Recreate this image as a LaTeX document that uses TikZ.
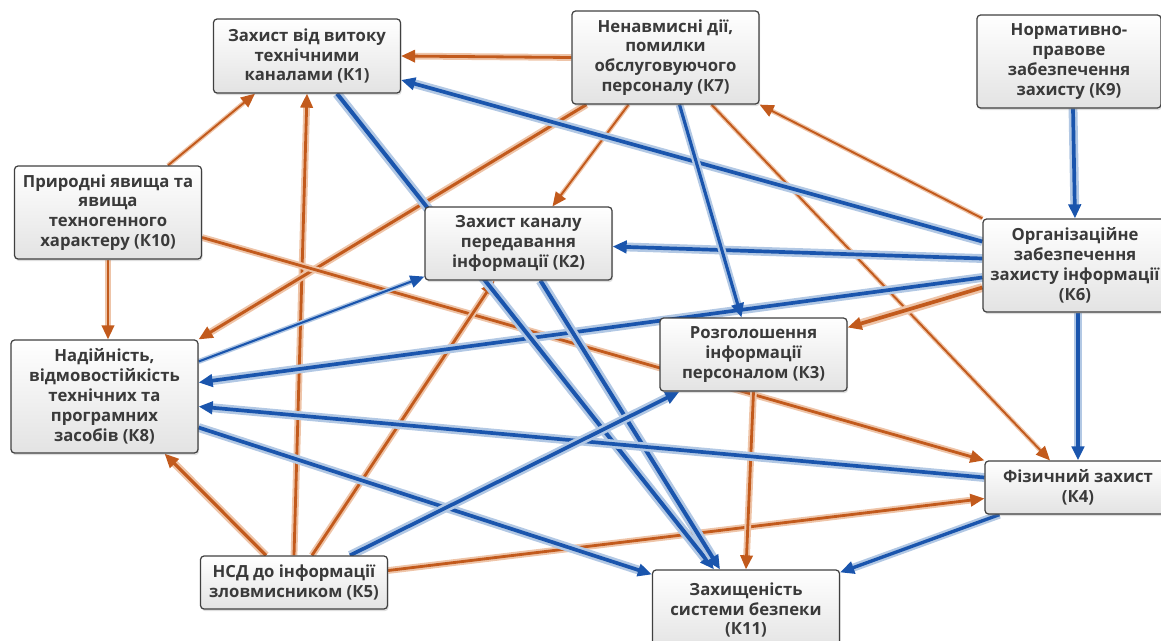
\documentclass[tikz,border=0pt]{standalone}
\usepackage{fontspec}
\setmainfont{Open Sans}
\usetikzlibrary{arrows.meta, shadows, backgrounds, calc}

\definecolor{orangeLine}{HTML}{C25A1C}
\definecolor{orangeHalo}{HTML}{EEC4A8}
\definecolor{blueLine}{HTML}{1A55AD}
\definecolor{blueHalo}{HTML}{B2C8E4}
\definecolor{boxText}{HTML}{3A3A3A}

\tikzset{
  box/.style={rectangle, rounded corners=2pt, draw=black!75, line width=0.7pt,
    top color=white, bottom color=black!11,
    drop shadow={shadow xshift=0.6pt, shadow yshift=-1.2pt, opacity=0.25},
    text=boxText, font=\fontsize{9.5}{11.3}\selectfont\bfseries, align=center,
    inner sep=0pt, minimum width=3.74cm},
  org/.style={draw=orangeLine, line width=#1, -{Triangle[length=8pt,width=7pt]},
    preaction={draw=orangeHalo, -, line width=2.4*#1, shorten >=6pt}},
  blu/.style={draw=blueLine, line width=#1, -{Triangle[length=8pt,width=7pt]},
    preaction={draw=blueHalo, -, line width=2.4*#1, shorten >=6pt}}
}

\begin{document}
\begin{tikzpicture}[x=0.02cm, y=-0.02cm]
  \useasboundingbox (0,0) rectangle (1161,640);
  \node[box, minimum height=1.48cm] (K1) at (307,56) {Захист від витоку\\технічними\\каналами (К1)};
  \node[box, minimum height=1.86cm] (K7) at (665.5,57.5) {Ненавмисні дії,\\помилки\\обслуговуючого\\персоналу (К7)};
  \node[box, minimum height=1.86cm, minimum width=3.68cm] (K9) at (1069,61.5) {Нормативно-\\правове\\забезпечення\\захисту (К9)};
  \node[box, minimum height=1.86cm] (K10) at (108,212.5) {Природні явища та\\явища\\техногенного\\характеру (К10)};
  \node[box, minimum height=1.46cm] (K2) at (518.5,243.5) {Захист каналу\\передавання\\інформації (К2)};
  \node[box, minimum height=1.86cm, minimum width=3.68cm] (K6) at (1075,265.5) {Організаційне\\забезпечення\\захисту інформації\\(К6)};
  \node[box, minimum height=1.46cm] (K3) at (753.5,354.5) {Розголошення\\інформації\\персоналом (К3)};
  \node[box, minimum height=2.26cm] (K8) at (104.5,396.5) {Надійність,\\відмовостійкість\\технічних та\\програмних\\засобів (К8)};
  \node[box, minimum height=1.06cm, minimum width=3.72cm] (K4) at (1078,487.5) {Фізичний захист\\(К4)};
  \node[box, minimum height=1.06cm] (K5) at (294,582.5) {НСД до інформації\\зловмисником (К5)};
  \node[box, minimum height=1.6cm] (K11) at (746,610) {Захищеність\\системи безпеки\\(К11)};

  \begin{pgfonlayer}{background}
  \draw[org=1.6pt] (K7.west) -- (K1.east);
  \draw[org=1.1pt] ($(K10.north)+(60,0)$) -- ($(K1.south)+(-52,0)$);
  \draw[org=1.6pt] (K5.north) -- (K1.south);
  \draw[org=1.7pt] ($(K7.south west)+(15,0)$) -- (K8.north east);
  \draw[org=1.1pt] ($(K7.south)+(-37,0)$) -- ($(K2.north)+(34,0)$);
  \draw[org=1.1pt] ($(K7.south)+(46,0)$) -- ($(K4.north)+(-28,0)$);
  \draw[org=1.1pt] (K6.north west) -- (K7.south east);
  \draw[org=2.1pt] ($(K6.west)+(0,22)$) -- ($(K3.east)+(0,-27)$);
  \draw[org=1.6pt] (K10.south) -- (K10.south |- K8.north);
  \draw[org=1.6pt] ($(K10.east)+(0,25)$) -- (K4.north west);
  \draw[org=1.8pt] ($(K5.north)+(-28,0)$) -- ($(K8.south east)+(-34,0)$);
  \draw[org=1.6pt] ($(K5.north)+(18,0)$) -- ($(K2.south)+(-24,0)$);
  \draw[org=1.6pt] ($(K5.east)+(0,-12)$) -- ($(K4.west)+(0,11)$);
  \draw[org=1.6pt] (K3.south) -- (K11.north);

  \draw[blu=2.1pt] ($(K6.west)+(0,-24)$) -- ($(K1.east)+(0,24)$);
  \draw[blu=2.1pt] ($(K6.west)+(0,-7)$) -- ($(K2.east)+(0,3)$);
  \draw[blu=2.1pt] ($(K9.south)+(4,0)$) -- (K6.north);
  \draw[blu=2.1pt] ($(K6.south)+(3,0)$) -- (K4.north);
  \draw[blu=2.1pt] ($(K6.west)+(0,12)$) -- ($(K8.east)+(0,-14)$);
  \draw[blu=1.8pt] ($(K7.south)+(14,0)$) -- ($(K3.north)+(-12,0)$);
  \draw[blu=2.3pt] ($(K1.south)+(30,0)$) -- ($(K11.north)+(-32,0)$);
  \draw[blu=2.3pt] ($(K2.south)+(22,0)$) -- ($(K11.north)+(-26,0)$);
  \draw[blu=1.2pt] ($(K8.east)+(0,-35)$) -- ($(K2.south west)+(0,-4)$);
  \draw[blu=2.1pt] ($(K4.west)+(0,-10)$) -- ($(K8.east)+(0,10)$);
  \draw[blu=2.1pt] ($(K8.east)+(0,31)$) -- ($(K11.north west)+(0,5)$);
  \draw[blu=2.1pt] ($(K5.north)+(56,0)$) -- ($(K3.south west)+(20,0)$);
  \draw[blu=1.9pt] ($(K4.south west)+(15,0)$) -- ($(K11.north east)+(0,3)$);
  \end{pgfonlayer}
\end{tikzpicture}
\end{document}
